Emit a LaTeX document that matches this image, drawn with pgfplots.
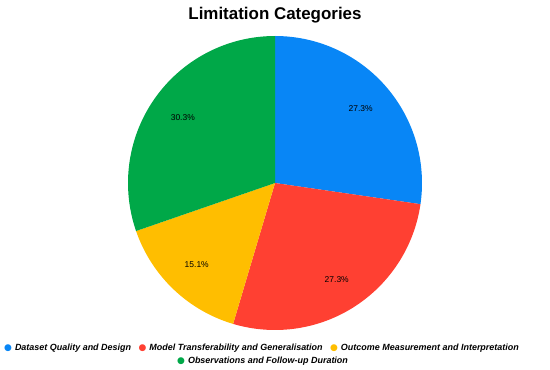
\documentclass[border=0pt]{standalone}
\usepackage{pgfplots}
\pgfplotsset{compat=1.18}
\usepackage{fontspec}
\setmainfont{Liberation Sans}
\newfontfamily\sym{DejaVu Sans}
\definecolor{cBlue}{RGB}{8,134,246}
\definecolor{cRed}{RGB}{255,64,50}
\definecolor{cYellow}{RGB}{255,190,0}
\definecolor{cGreen}{RGB}{0,168,72}
% data (percent)
\def\vA{27.3}\def\vB{27.3}\def\vC{15.1}\def\vD{30.3}
\begin{document}
\begin{tikzpicture}
\path[use as bounding box] (0bp,0bp) rectangle (550bp,370bp);
\pgfmathsetmacro{\aO}{90}
\pgfmathsetmacro{\aA}{\aO-3.6*\vA}
\pgfmathsetmacro{\aB}{\aA-3.6*\vB}
\pgfmathsetmacro{\aC}{\aB-3.6*\vC}
\pgfmathsetmacro{\aD}{\aC-3.6*\vD}
\begin{axis}[at={(275bp,187bp)}, anchor=center, width=294bp, height=294bp,
  scale only axis, hide axis, xmin=-1, xmax=1, ymin=-1, ymax=1, clip=false]
\addplot[fill=cBlue, draw=none, domain=\aA:\aO, samples=80, variable=\t] ({cos(\t)},{sin(\t)}) -- (axis cs:0,0) -- cycle;
\addplot[fill=cRed, draw=none, domain=\aB:\aA, samples=80, variable=\t] ({cos(\t)},{sin(\t)}) -- (axis cs:0,0) -- cycle;
\addplot[fill=cYellow, draw=none, domain=\aC:\aB, samples=60, variable=\t] ({cos(\t)},{sin(\t)}) -- (axis cs:0,0) -- cycle;
\addplot[fill=cGreen, draw=none, domain=\aD:\aC, samples=80, variable=\t] ({cos(\t)},{sin(\t)}) -- (axis cs:0,0) -- cycle;
\pgfmathsetmacro{\mA}{(\aO+\aA)/2}
\pgfmathsetmacro{\mB}{(\aA+\aB)/2}
\pgfmathsetmacro{\mC}{(\aB+\aC)/2}
\pgfmathsetmacro{\mD}{(\aC+\aD)/2}
\tikzset{lab/.style={font=\fontsize{8.5}{10}\selectfont, text=black}}
\node[lab] at (axis cs:{0.77*cos(\mA)},{0.77*sin(\mA)}) {27.3\%};
\node[lab] at (axis cs:{0.78*cos(\mB)},{0.78*sin(\mB)}) {27.3\%};
\node[lab] at (axis cs:{0.77*cos(\mC)},{0.77*sin(\mC)}) {15.1\%};
\node[lab] at (axis cs:{0.77*cos(\mD)},{0.77*sin(\mD)}) {30.3\%};
\end{axis}
\node[font=\fontsize{17}{20}\selectfont\bfseries] at (275bp,355bp) {Limitation Categories};
\node[anchor=west, inner sep=0pt, font=\fontsize{9}{10}\selectfont\bfseries\itshape] at (4bp,21.7bp)
 {{\sym\color{cBlue}\fontsize{9}{9}\selectfont●}\hspace{3bp}Dataset Quality and Design\hspace{7.5bp}{\sym\color{cRed}\fontsize{9}{9}\selectfont●}\hspace{3bp}Model Transferability and Generalisation\hspace{7.5bp}{\sym\color{cYellow}\fontsize{9}{9}\selectfont●}\hspace{3bp}Outcome Measurement and Interpretation};
\node[anchor=west, inner sep=0pt, font=\fontsize{9}{10}\selectfont\bfseries\itshape] at (177bp,9.3bp)
 {{\sym\color{cGreen}\fontsize{9}{9}\selectfont●}\hspace{3bp}Observations and Follow-up Duration};
\end{tikzpicture}
\end{document}
